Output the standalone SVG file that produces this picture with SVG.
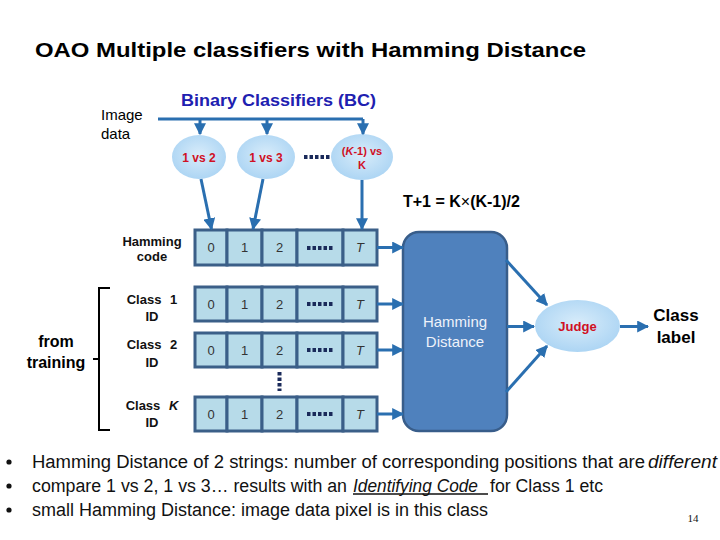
<svg xmlns="http://www.w3.org/2000/svg" width="720" height="540" viewBox="0 0 720 540">
<defs>
<marker id="ah" viewBox="0 0 10 10" refX="9" refY="5" markerWidth="4" markerHeight="4" orient="auto" markerUnits="strokeWidth">
<path d="M0,0 L10,5 L0,10 z" fill="#2a6fb0"/>
</marker>
<radialGradient id="bub" cx="0.5" cy="0.45" r="0.6">
<stop offset="0" stop-color="#d8ecfa"/>
<stop offset="1" stop-color="#a9d3f3"/>
</radialGradient>
<style>
.t{font-family:"Liberation Sans",Arial,sans-serif;fill:#000}
.b{font-weight:bold}
.bub{fill:url(#bub);stroke:none}
.red{font-family:"Liberation Sans",Arial,sans-serif;font-weight:bold;fill:#d01024;text-anchor:middle}
.cell{fill:#b7dbe9;stroke:#3b5f88;stroke-width:3}
.ct{font-family:"Liberation Sans",Arial,sans-serif;font-size:13px;fill:#333;text-anchor:middle}
.con{stroke:#2a6fb0;stroke-width:3;fill:none}
.dots{stroke:#1a2a5a;stroke-width:4;stroke-dasharray:3.5,2}
.lbl{font-family:"Liberation Sans",Arial,sans-serif;font-size:13px;font-weight:bold;text-anchor:middle;fill:#111}
.bul{font-family:"Liberation Sans",Arial,sans-serif;font-size:18px;fill:#111}
</style>
</defs>
<rect width="720" height="540" fill="#fff"/>

<text class="t b" x="35" y="57" font-size="21" textLength="551" lengthAdjust="spacingAndGlyphs">OAO Multiple classifiers with Hamming Distance</text>
<text id="bc-title" x="181" y="106" font-family="Liberation Sans,Arial,sans-serif" font-size="17" font-weight="bold" fill="#2020b0" textLength="195" lengthAdjust="spacingAndGlyphs">Binary Classifiers (BC)</text>
<g id="image-data">
<text class="t" x="101" y="120" font-size="15">Image</text>
<text class="t" x="101" y="139" font-size="15">data</text>
</g>

<g id="bc1"><ellipse class="bub" cx="199" cy="157" rx="27" ry="22"/><text class="red" x="199" y="162" font-size="12">1 vs 2</text></g>
<g id="bc2"><ellipse class="bub" cx="266" cy="157" rx="29" ry="22"/><text class="red" x="266" y="162" font-size="12">1 vs 3</text></g>
<g id="bc3"><ellipse class="bub" cx="362" cy="157" rx="31" ry="23"/><text class="red" x="362" y="155" font-size="11">(<tspan font-style="italic">K</tspan>-1) vs</text><text class="red" x="362" y="169" font-size="11">K</text></g>
<line class="dots" x1="304" y1="157" x2="331" y2="157"/>

<text id="formula" class="t b" x="403" y="207" font-size="16">T+1 = K<tspan font-weight="normal">×</tspan>(K-1)/2</text>

<g id="labels">
<text class="lbl" x="152" y="246">Hamming</text>
<text class="lbl" x="152" y="261">code</text>
<text class="lbl" x="152" y="304" word-spacing="5">Class 1</text>
<text class="lbl" x="152" y="321">ID</text>
<text class="lbl" x="152" y="349" word-spacing="5">Class 2</text>
<text class="lbl" x="152" y="367">ID</text>
<text class="lbl" x="152" y="410" word-spacing="5">Class <tspan font-style="italic">K</tspan></text>
<text class="lbl" x="152" y="427">ID</text>
</g>

<g id="row-hamming">
<rect class="cell" x="195" y="230" width="32" height="35"/><rect class="cell" x="227" y="230" width="35" height="35"/><rect class="cell" x="262" y="230" width="35" height="35"/><rect class="cell" x="297" y="230" width="46" height="35"/><rect class="cell" x="343" y="230" width="34" height="35"/>
<text class="ct" x="211" y="252">0</text><text class="ct" x="244.5" y="252">1</text><text class="ct" x="279.5" y="252">2</text><line class="dots" x1="307" y1="248" x2="334" y2="248"/><text class="ct" x="360" y="252" font-style="italic">T</text>
</g>
<g id="row-class1">
<rect class="cell" x="195" y="287" width="32" height="34"/><rect class="cell" x="227" y="287" width="35" height="34"/><rect class="cell" x="262" y="287" width="35" height="34"/><rect class="cell" x="297" y="287" width="46" height="34"/><rect class="cell" x="343" y="287" width="34" height="34"/>
<text class="ct" x="211" y="309">0</text><text class="ct" x="244.5" y="309">1</text><text class="ct" x="279.5" y="309">2</text><line class="dots" x1="307" y1="304" x2="334" y2="304"/><text class="ct" x="360" y="309" font-style="italic">T</text>
</g>
<g id="row-class2">
<rect class="cell" x="195" y="333" width="32" height="34"/><rect class="cell" x="227" y="333" width="35" height="34"/><rect class="cell" x="262" y="333" width="35" height="34"/><rect class="cell" x="297" y="333" width="46" height="34"/><rect class="cell" x="343" y="333" width="34" height="34"/>
<text class="ct" x="211" y="355">0</text><text class="ct" x="244.5" y="355">1</text><text class="ct" x="279.5" y="355">2</text><line class="dots" x1="307" y1="350" x2="334" y2="350"/><text class="ct" x="360" y="355" font-style="italic">T</text>
</g>
<line class="dots" x1="279.5" y1="372" x2="279.5" y2="391"/>
<g id="row-classK">
<rect class="cell" x="195" y="397" width="32" height="34"/><rect class="cell" x="227" y="397" width="35" height="34"/><rect class="cell" x="262" y="397" width="35" height="34"/><rect class="cell" x="297" y="397" width="46" height="34"/><rect class="cell" x="343" y="397" width="34" height="34"/>
<text class="ct" x="211" y="419">0</text><text class="ct" x="244.5" y="419">1</text><text class="ct" x="279.5" y="419">2</text><line class="dots" x1="307" y1="414" x2="334" y2="414"/><text class="ct" x="360" y="419" font-style="italic">T</text>
</g>

<g id="from-training">
<path d="M110,288 H99 V430 H110 M99,359 H93" fill="none" stroke="#000" stroke-width="2"/>
<text class="t b" x="56" y="347" font-size="16" text-anchor="middle">from</text>
<text class="t b" x="56" y="368" font-size="16" text-anchor="middle">training</text>
</g>

<g id="hamming-distance">
<rect x="403" y="232" width="104" height="199" rx="16" fill="#4f81bd" stroke="#385d8a" stroke-width="2.5"/>
<text x="455" y="327" font-family="Liberation Sans,Arial,sans-serif" font-size="15" fill="#eef2fa" text-anchor="middle">Hamming</text>
<text x="455" y="347" font-family="Liberation Sans,Arial,sans-serif" font-size="15" fill="#eef2fa" text-anchor="middle">Distance</text>
</g>
<g id="judge"><ellipse class="bub" cx="577.5" cy="326" rx="42.5" ry="26"/><text class="red" x="577.5" y="331" font-size="13">Judge</text></g>
<g id="class-label">
<text class="t b" x="676" y="321" font-size="17" text-anchor="middle">Class</text>
<text class="t b" x="676" y="343" font-size="17" text-anchor="middle">label</text>
</g>

<g id="connectors">
<line class="con" x1="158" y1="119" x2="363" y2="119" stroke="#4a7db5"/>
<line class="con" x1="200" y1="119" x2="200" y2="134" marker-end="url(#ah)"/>
<line class="con" x1="267" y1="119" x2="267" y2="134" marker-end="url(#ah)"/>
<line class="con" x1="363" y1="119" x2="363" y2="134" marker-end="url(#ah)"/>
<line class="con" x1="201" y1="179" x2="211.5" y2="229" marker-end="url(#ah)"/>
<line class="con" x1="263" y1="179" x2="253" y2="229" marker-end="url(#ah)"/>
<line class="con" x1="362" y1="180" x2="362" y2="229" marker-end="url(#ah)"/>
<line class="con" x1="377" y1="247.5" x2="403" y2="247.5" marker-end="url(#ah)"/>
<line class="con" x1="377" y1="304" x2="403" y2="304" marker-end="url(#ah)"/>
<line class="con" x1="377" y1="350" x2="403" y2="350" marker-end="url(#ah)"/>
<line class="con" x1="377" y1="414" x2="403" y2="414" marker-end="url(#ah)"/>
<line class="con" x1="506" y1="260" x2="547" y2="305" marker-end="url(#ah)"/>
<line class="con" x1="507" y1="326.5" x2="534" y2="326.5" marker-end="url(#ah)"/>
<line class="con" x1="506" y1="392" x2="547" y2="346" marker-end="url(#ah)"/>
<line class="con" x1="620" y1="326.5" x2="648" y2="326.5" marker-end="url(#ah)"/>
</g>

<g id="bullets">
<circle cx="9" cy="462" r="2.6" fill="#111"/><circle cx="9" cy="486" r="2.6" fill="#111"/><circle cx="9" cy="510" r="2.6" fill="#111"/>
<text class="bul" x="32" y="468" textLength="613" lengthAdjust="spacingAndGlyphs">Hamming Distance of 2 strings: number of corresponding positions that are</text>
<text class="bul" x="648" y="468" font-style="italic" textLength="69" lengthAdjust="spacingAndGlyphs">different</text>
<text class="bul" x="32" y="492" textLength="315" lengthAdjust="spacingAndGlyphs">compare 1 vs 2, 1 vs 3… results with an</text>
<text class="bul" x="353" y="492" font-style="italic" textLength="125" lengthAdjust="spacingAndGlyphs">Identifying Code</text>
<line x1="353" y1="494" x2="488" y2="494" stroke="#111" stroke-width="1.3"/>
<text class="bul" x="490" y="492" textLength="113" lengthAdjust="spacingAndGlyphs">for Class 1 etc</text>
<text class="bul" x="32" y="516" textLength="456" lengthAdjust="spacingAndGlyphs">small Hamming Distance: image data pixel is in this class</text>
<text x="693" y="522" font-family="Liberation Serif,serif" font-size="11" fill="#111" text-anchor="middle">14</text>
</g>
</svg>
